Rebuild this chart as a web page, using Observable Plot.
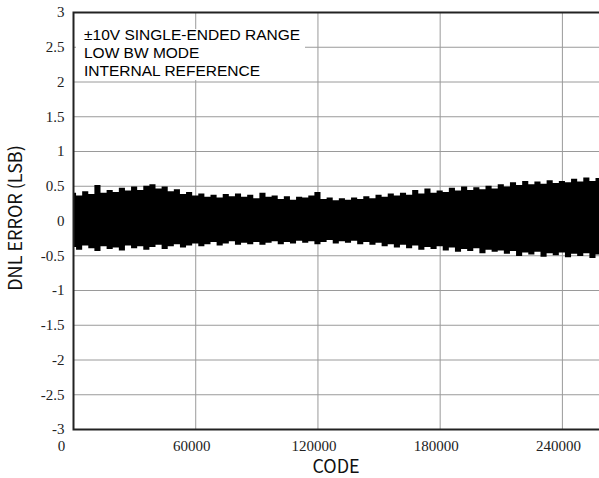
<!DOCTYPE html>
<html>
<head>
<meta charset="utf-8">
<script src="https://cdn.jsdelivr.net/npm/d3@7"></script>
<script src="https://cdn.jsdelivr.net/npm/@observablehq/plot@0.6"></script>
<style>
  html, body { margin: 0; padding: 0; background: #fff; }
  body { width: 599px; height: 478px; overflow: hidden; }
  #chart { position: relative; width: 610px; }
</style>
</head>
<body>
<div id="chart"></div>
<script>
// ---- data (upper / lower envelope of DNL error band) ----
const codes = [0,3000,6000,9000,12000,15000,18000,21000,24000,27000,
  30000,33000,36000,39000,42000,45000,48000,51000,54000,57000,
  60000,63000,66000,69000,72000,75000,78000,81000,84000,87000,
  90000,93000,96000,99000,102000,105000,108000,111000,114000,117000,
  120000,123000,126000,129000,132000,135000,138000,141000,144000,147000,
  150000,153000,156000,159000,162000,165000,168000,171000,174000,177000,
  180000,183000,186000,189000,192000,195000,198000,201000,204000,207000,
  210000,213000,216000,219000,222000,225000,228000,231000,234000,237000,
  240000,243000,246000,249000,252000,255000,258000,261000];
const dnlHigh = [0.40,0.36,0.42,0.38,0.51,0.40,0.44,0.41,0.47,0.43,
  0.49,0.44,0.50,0.52,0.46,0.49,0.42,0.45,0.38,0.41,
  0.36,0.39,0.34,0.37,0.33,0.38,0.35,0.39,0.34,0.37,
  0.32,0.40,0.34,0.36,0.31,0.35,0.30,0.34,0.33,0.36,
  0.41,0.31,0.33,0.29,0.32,0.30,0.33,0.31,0.35,0.32,
  0.37,0.34,0.39,0.36,0.40,0.37,0.44,0.39,0.46,0.40,
  0.43,0.41,0.47,0.43,0.49,0.44,0.48,0.45,0.50,0.46,
  0.52,0.49,0.55,0.51,0.57,0.52,0.56,0.53,0.58,0.54,
  0.57,0.55,0.60,0.56,0.62,0.57,0.61,0.58];
const dnlLow = [-0.38,-0.42,-0.36,-0.40,-0.44,-0.37,-0.41,-0.39,-0.43,-0.36,
  -0.40,-0.37,-0.42,-0.38,-0.35,-0.41,-0.37,-0.34,-0.39,-0.36,
  -0.33,-0.37,-0.34,-0.31,-0.36,-0.33,-0.30,-0.35,-0.32,-0.34,
  -0.31,-0.35,-0.32,-0.30,-0.34,-0.31,-0.33,-0.29,-0.32,-0.30,
  -0.34,-0.31,-0.28,-0.33,-0.30,-0.32,-0.29,-0.34,-0.31,-0.35,
  -0.32,-0.37,-0.34,-0.39,-0.35,-0.40,-0.36,-0.42,-0.38,-0.41,
  -0.37,-0.43,-0.39,-0.45,-0.41,-0.44,-0.40,-0.47,-0.42,-0.45,
  -0.43,-0.48,-0.44,-0.51,-0.46,-0.49,-0.45,-0.52,-0.47,-0.50,
  -0.46,-0.53,-0.48,-0.51,-0.47,-0.54,-0.49,-0.52];
const xTicks = [0, 60000, 120000, 180000, 240000];
const yTicks = [-3,-2.5,-2,-1.5,-1,-0.5,0,0.5,1,1.5,2,2.5,3];
const xDomain = [0, 262144];
const yDomain = [-3, 3];
const notes = ["\u00B110V SINGLE-ENDED RANGE", "LOW BW MODE", "INTERNAL REFERENCE"];
const xTitle = "CODE";
const yTitle = "DNL ERROR (LSB)";

const rows = codes.map((c, i) => ({code: c, hi: dnlHigh[i], lo: dnlLow[i]}));
const fmt = d => String(d);

const plot = Plot.plot({
  width: 610,
  height: 478,
  marginLeft: 73,
  marginRight: 3,
  marginTop: 12,
  marginBottom: 49,
  x: {domain: xDomain, label: null},
  y: {domain: yDomain, label: null},
  style: {background: "#fff", fontFamily: "'Liberation Serif', serif", fontSize: "15px", color: "#222"},
  marks: [
    Plot.gridX(xTicks, {stroke: "#9a9a9a", strokeOpacity: 1, strokeWidth: 1}),
    Plot.gridY(yTicks, {stroke: "#9a9a9a", strokeOpacity: 1, strokeWidth: 1}),
    Plot.areaY(rows, {x: "code", y1: "lo", y2: "hi", fill: "#000", curve: "step"}),
    Plot.frame({stroke: "#222", strokeWidth: 2}),
    Plot.axisY(yTicks, {tickSize: 0, tickPadding: 9, tickFormat: fmt, label: null}),
    Plot.axisX(xTicks.slice(1), {tickSize: 0, tickPadding: 11, tickFormat: fmt, dx: -4, label: null}),
    Plot.axisX(xTicks.slice(0, 1), {tickSize: 0, tickPadding: 11, tickFormat: fmt, dx: -12, label: null})
  ]
});

document.getElementById("chart").appendChild(plot);

const svg = d3.select(plot);

// annotation box (white background hiding gridlines) + multi-line text
const box = svg.append("g").attr("text-anchor", "start");
box.append("rect")
  .attr("x", 76).attr("y", 29).attr("width", 229).attr("height", 51)
  .attr("fill", "#fff");
box.selectAll("text").data(notes).join("text")
  .attr("x", 84)
  .attr("y", (d, i) => 40 + i * 18)
  .attr("text-anchor", "start")
  .attr("font-family", "'Liberation Sans', Arial, sans-serif")
  .attr("font-size", 15.5)
  .attr("fill", "#000")
  .text(d => d);

// axis titles
svg.append("text")
  .attr("x", 336).attr("y", 473)
  .attr("text-anchor", "middle")
  .attr("font-family", "'Noto Sans CJK SC', 'Noto Sans', sans-serif")
  .attr("font-size", 18)
  .attr("fill", "#111")
  .text(xTitle);
svg.append("text")
  .attr("transform", "translate(22,218) rotate(-90)")
  .attr("text-anchor", "middle")
  .attr("font-family", "'Noto Sans CJK SC', 'Noto Sans', sans-serif")
  .attr("font-size", 18)
  .attr("fill", "#111")
  .text(yTitle);
</script>
</body>
</html>
